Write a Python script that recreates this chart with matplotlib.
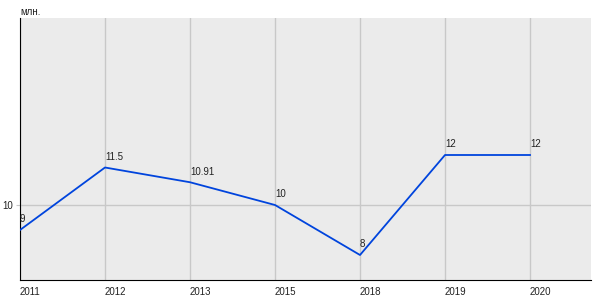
import matplotlib
matplotlib.use("Agg")
from matplotlib import pyplot as plt

# data
years = ["2011", "2012", "2013", "2015", "2018", "2019", "2020"]
values = [9, 11.5, 10.91, 10, 8, 12, 12]
labels = ["9", "11.5", "10.91", "10", "8", "12", "12"]

plt.rcParams['font.family'] = ['Liberation Sans', 'DejaVu Sans']

fig = plt.figure(figsize=(6, 3), dpi=100)
ax = fig.add_axes([20/600, 20/300, 571/600, 262/300])
ax.set_facecolor("#ebebeb")

xs = list(range(len(years)))
ax.plot(xs, values, color="#0044dd", lw=1.3, zorder=3)
for x, v, t in zip(xs, values, labels):
    ax.annotate(t, (x, v), xytext=(0, 4), textcoords="offset points",
                ha="left", va="bottom", fontsize=7, color="#222222")

ax.set_xlim(0, 571/85)
ax.set_ylim(7, 17.48)
ax.set_xticks(xs)
ax.set_xticklabels(years, ha="left")
ax.set_yticks([10])
ax.grid(True, color="#c8c8c8", lw=1)
ax.set_axisbelow(True)
ax.tick_params(axis="x", length=0, pad=5, labelsize=7, colors="#222222")
ax.tick_params(axis="y", length=3, color="#c8c8c8", pad=2, labelsize=7, labelcolor="#222222")
for s in ["top", "right"]:
    ax.spines[s].set_visible(False)
ax.spines["left"].set_color("black")
ax.spines["bottom"].set_color("black")
fig.text(20/600, 1 - 12/300, "млн.", fontsize=7, color="#222222", va="center")

fig.savefig("out.png", dpi=100)
